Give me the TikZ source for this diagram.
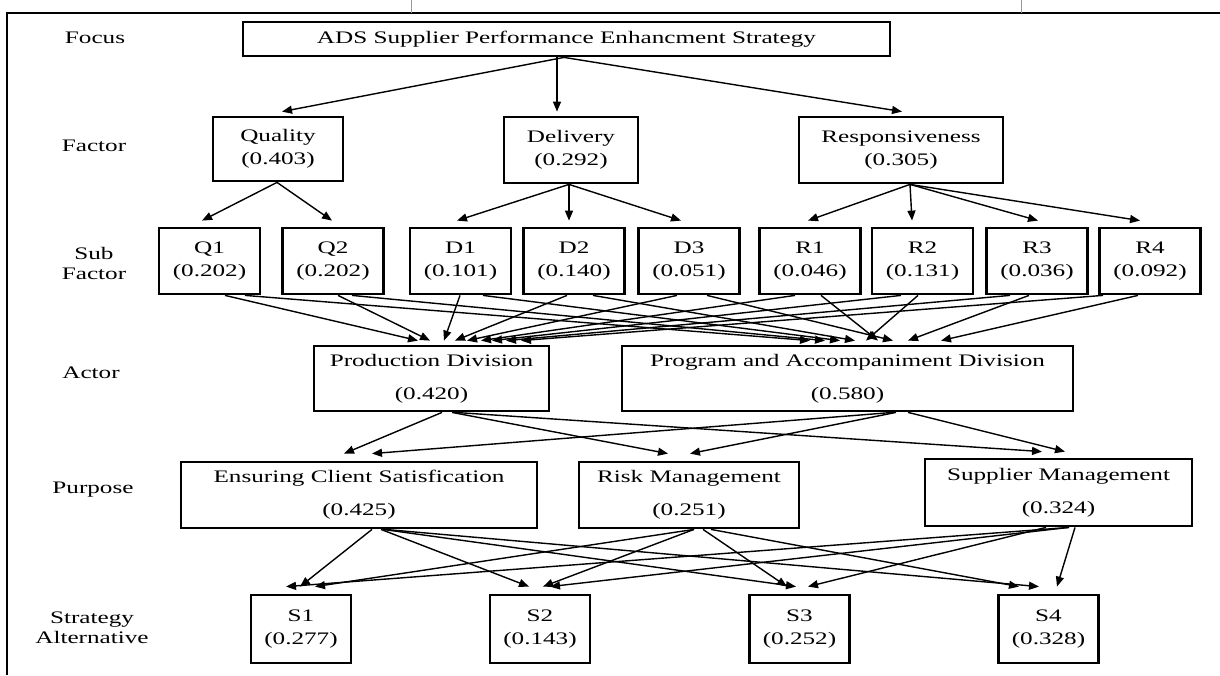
\documentclass[tikz,border=0pt]{standalone}
\usepackage{fontspec}
\setmainfont{Liberation Serif}[FakeStretch=1.43]
\usetikzlibrary{arrows.meta,calc}
\tikzset{
  box/.style={draw, line width=1.4pt, inner sep=0pt, align=center, font=\fontsize{8.8}{11.5}\selectfont},
  sbox/.style={box, minimum width=50.5pt, minimum height=33pt},
  stbox/.style={box, minimum width=50pt, minimum height=34pt},
  lbl/.style={align=center, font=\fontsize{8.8}{10}\selectfont},
  arr/.style={-{Triangle[length=5pt,width=4pt]}, line width=0.7pt},
  bframe/.style={line width=1pt},
  tick/.style={line width=0.4pt, black!40}
}
\newcommand{\conn}[5]{\draw[arr] ($(#1.south)+(#2,0)$) -- ($(#3.north)+(#4,-#5)$);}
\begin{document}
\begin{tikzpicture}[x=0.5pt,y=-0.5pt]
\useasboundingbox[fill=white] (0,0) rectangle (1220,675);
% frame
\coordinate (ftl) at (7,13);
\coordinate (ftr) at (1220,13);
\coordinate (fbl) at (7,675);
\draw[bframe] (fbl) -- (ftl) -- (ftr);
\coordinate (t1a) at (411,0); \coordinate (t1b) at (411,13);
\coordinate (t2a) at (1021,0); \coordinate (t2b) at (1021,13);
\draw[tick] (t1a) -- (t1b);
\draw[tick] (t2a) -- (t2b);
% row labels
\node[lbl] (lfocus) at (95,38) {Focus};
\node[lbl] (lfactor) at (94,146) {Factor};
\node[lbl] (lsub) at (94,263) {Sub\\Factor};
\node[lbl] (lactor) at (91,373) {Actor};
\node[lbl] (lpurpose) at (93,490) {Purpose};
\node[lbl] (lstrat) at (92,628) {Strategy\\Alternative};
% focus
\node[box, minimum width=323.5pt, minimum height=17pt] (focus) at (566.5,39) {ADS Supplier Performance Enhancment Strategy};
% factors
\node[box, minimum width=65pt, minimum height=32pt] (qual) at (278,149) {Quality\\(0.403)};
\node[box, minimum width=67pt, minimum height=33pt] (deli) at (571,150) {Delivery\\(0.292)};
\node[box, minimum width=102pt, minimum height=33pt] (resp) at (901,150) {Responsiveness\\(0.305)};
% sub factors
\node[sbox] (q1) at (209.5,261) {Q1\\(0.202)};
\node[sbox] (q2) at (333,261) {Q2\\(0.202)};
\node[sbox] (d1) at (460.5,261) {D1\\(0.101)};
\node[sbox] (d2) at (574,261) {D2\\(0.140)};
\node[sbox] (d3) at (689,261) {D3\\(0.051)};
\node[sbox] (r1) at (810,261) {R1\\(0.046)};
\node[sbox] (r2) at (922.5,261) {R2\\(0.131)};
\node[sbox] (r3) at (1037,261) {R3\\(0.036)};
\node[sbox] (r4) at (1150,261) {R4\\(0.092)};
% actors
\node[box, minimum width=117.5pt, minimum height=32.5pt] (prod) at (431.5,378.5) {Production Division\\[5pt](0.420)};
\node[box, minimum width=225.5pt, minimum height=32.5pt] (prog) at (847.5,378.5) {Program and Accompaniment Division\\[5pt](0.580)};
% purposes
\node[box, minimum width=178pt, minimum height=33pt] (ens) at (359,495) {Ensuring Client Satisfication\\[5pt](0.425)};
\node[box, minimum width=110pt, minimum height=33pt] (risk) at (689,495) {Risk Management\\[5pt](0.251)};
\node[box, minimum width=133.5pt, minimum height=33.5pt] (supp) at (1058.5,492.5) {Supplier Management\\[5pt](0.324)};
% strategies
\node[stbox] (s1) at (301,629) {S1\\(0.277)};
\node[stbox] (s2) at (540,629) {S2\\(0.143)};
\node[stbox] (s3) at (799.5,629) {S3\\(0.252)};
\node[stbox] (s4) at (1048.5,629) {S4\\(0.328)};
% focus -> factors
\conn{focus}{-2.5}{qual}{4}{4}
\conn{focus}{-9.5}{deli}{-14}{4}
\conn{focus}{-2.5}{resp}{1}{4}
% factors -> sub factors
\conn{qual}{-1}{q1}{-7.5}{6}
\conn{qual}{-1}{q2}{-1}{6}
\conn{deli}{-2}{d1}{-3.5}{6}
\conn{deli}{-2}{d2}{-5}{6}
\conn{deli}{-2}{d3}{-8}{6}
\conn{resp}{9}{r1}{-2}{6}
\conn{resp}{9}{r2}{-10.5}{6}
\conn{resp}{9}{r3}{1}{6}
\conn{resp}{9}{r4}{-10}{6}
% sub factors -> actors
\conn{q1}{15.5}{prod}{-13.5}{4}
\conn{q1}{35.5}{prog}{-37.5}{4}
\conn{q2}{5}{prod}{-1.5}{4}
\conn{q2}{19}{prog}{-22.5}{4}
\conn{d1}{-0.5}{prod}{12.5}{4}
\conn{d1}{22.5}{prog}{-7.5}{4}
\conn{d2}{-7}{prod}{23.5}{4}
\conn{d2}{19}{prog}{7.5}{4}
\conn{d3}{-12}{prod}{35.5}{4}
\conn{d3}{18}{prog}{45.5}{4}
\conn{r1}{-15}{prod}{49.5}{4}
\conn{r1}{11}{prog}{30.5}{4}
\conn{r2}{-21.5}{prod}{60.5}{4}
\conn{r2}{-4.5}{prog}{18.5}{4}
\conn{r3}{-27}{prod}{74.5}{4}
\conn{r3}{-8}{prog}{60.5}{4}
\conn{r4}{-47}{prod}{89.5}{4}
\conn{r4}{-12}{prog}{93.5}{4}
% actors -> purposes
\conn{prod}{10.5}{ens}{-15}{7}
\conn{prod}{20.5}{risk}{-21}{7}
\conn{prod}{23.5}{supp}{-16.5}{6}
\conn{prog}{45.5}{ens}{13}{7}
\conn{prog}{48.5}{risk}{1}{7}
\conn{prog}{60.5}{supp}{6.5}{6}
% purposes -> strategies
\conn{ens}{13}{s1}{-1}{7}
\conn{ens}{22}{s2}{-11}{7}
\conn{ens}{24}{s3}{-3.5}{7}
\conn{ens}{26}{s4}{-9.5}{7}
\conn{risk}{5}{s1}{14}{7}
\conn{risk}{5}{s2}{3}{7}
\conn{risk}{14}{s3}{-12.5}{7}
\conn{risk}{22}{s4}{-29.5}{7}
\conn{supp}{10.5}{s1}{-15}{7}
\conn{supp}{10.5}{s2}{10}{7}
\conn{supp}{-12.5}{s3}{8.5}{7}
\conn{supp}{16.5}{s4}{8.5}{7}
\end{tikzpicture}
\end{document}
